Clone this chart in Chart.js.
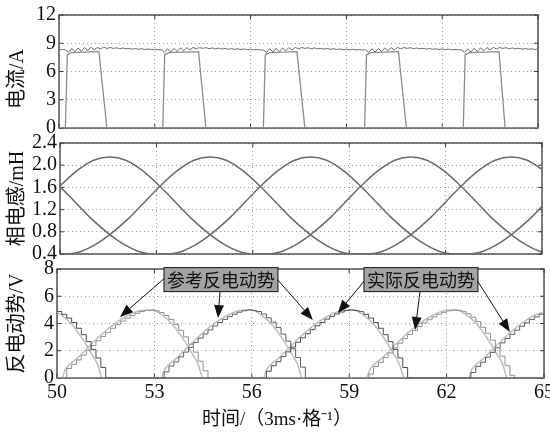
<!DOCTYPE html>
<html>
<head>
<meta charset="utf-8">
<script src="https://cdn.jsdelivr.net/npm/chart.js@4.4.0/dist/chart.umd.min.js"></script>
<style>
  body { margin: 0; background: #fff; }
  #wrap { position: relative; width: 550px; height: 437px; }
  #wrap canvas { position: absolute; left: 0; top: 0; }
</style>
</head>
<body>
<div id="wrap">
  <canvas id="cur" width="550" height="437"></canvas>
  <canvas id="ind" width="550" height="437"></canvas>
  <canvas id="emf" width="550" height="437"></canvas>
</div>
<script>
// time axis, 3 ms per division
const timeTicks = [50, 53, 56, 59, 62, 65];
const curTicks = [0, 3, 6, 9, 12];
const indTicks = [0.4, 0.8, 1.2, 1.6, 2.0, 2.4];
const emfTicks = [0, 2, 4, 6, 8];

// panel 1: current envelope with ripple
const curTime = [
  50.0, 50.1, 50.2, 50.3, 50.4, 50.5, 50.6, 50.7, 50.8, 50.9,
  51.0, 51.1, 51.2, 51.3, 51.4, 51.5, 51.6, 51.7, 51.8, 51.9,
  52.0, 52.1, 52.2, 52.3, 52.4, 52.5, 52.6, 52.7, 52.8, 52.9,
  53.0, 53.1, 53.2, 53.3, 53.4, 53.5, 53.6, 53.7, 53.8, 53.9,
  54.0, 54.1, 54.2, 54.3, 54.4, 54.5, 54.6, 54.7, 54.8, 54.9,
  55.0, 55.1, 55.2, 55.3, 55.4, 55.5, 55.6, 55.7, 55.8, 55.9,
  56.0, 56.1, 56.2, 56.3, 56.4, 56.5, 56.6, 56.7, 56.8, 56.9,
  57.0, 57.1, 57.2, 57.3, 57.4, 57.5, 57.6, 57.7, 57.8, 57.9,
  58.0, 58.1, 58.2, 58.3, 58.4, 58.5, 58.6, 58.7, 58.8, 58.9,
  59.0, 59.1, 59.2, 59.3, 59.4, 59.5, 59.6, 59.7, 59.8, 59.9,
  60.0, 60.1, 60.2, 60.3, 60.4, 60.5, 60.6, 60.7, 60.8, 60.9,
  61.0, 61.1, 61.2, 61.3, 61.4, 61.5, 61.6, 61.7, 61.8, 61.9,
  62.0, 62.1, 62.2, 62.3, 62.4, 62.5, 62.6, 62.7, 62.8, 62.9,
  63.0, 63.1, 63.2, 63.3, 63.4, 63.5, 63.6, 63.7, 63.8, 63.9,
  64.0, 64.1, 64.2, 64.3, 64.4, 64.5, 64.6, 64.7, 64.8, 64.9,
  65.0
];
const curTop = [
  8.30, 8.35, 8.30, 8.05, 8.45, 8.10, 8.50, 8.15, 8.55, 8.22,
  8.58, 8.30, 8.55, 8.40, 8.58, 8.45, 8.55, 8.45, 8.52, 8.42,
  8.50, 8.40, 8.46, 8.38, 8.44, 8.36, 8.41, 8.34, 8.39, 8.32,
  8.36, 8.30, 8.33, 8.02, 8.42, 8.06, 8.46, 8.12, 8.50, 8.20,
  8.54, 8.30, 8.56, 8.40, 8.55, 8.45, 8.54, 8.42, 8.50, 8.40,
  8.48, 8.38, 8.45, 8.36, 8.43, 8.35, 8.41, 8.34, 8.39, 8.32,
  8.37, 8.30, 8.35, 8.30, 8.28, 8.02, 8.42, 8.06, 8.46, 8.12,
  8.50, 8.20, 8.54, 8.30, 8.56, 8.40, 8.55, 8.45, 8.53, 8.42,
  8.50, 8.40, 8.46, 8.38, 8.44, 8.36, 8.41, 8.34, 8.39, 8.32,
  8.37, 8.30, 8.35, 8.30, 8.33, 8.28, 8.30, 8.02, 8.42, 8.06,
  8.46, 8.12, 8.50, 8.20, 8.54, 8.30, 8.56, 8.40, 8.55, 8.45,
  8.53, 8.42, 8.50, 8.40, 8.46, 8.38, 8.44, 8.36, 8.41, 8.34,
  8.39, 8.32, 8.37, 8.30, 8.35, 8.30, 8.30, 8.02, 8.42, 8.06,
  8.46, 8.12, 8.50, 8.20, 8.54, 8.30, 8.56, 8.40, 8.55, 8.45,
  8.53, 8.42, 8.50, 8.40, 8.46, 8.38, 8.44, 8.36, 8.41, 8.34,
  8.39
];
// phase current pulses
const curA_t = [50, 56.4, 56.46, 56.6, 57.45, 57.7, 65];
const curA = [0, 0, 7.8, 8.0, 8.1, 0, 0];
const curB_t = [50, 50.2, 50.26, 50.4, 51.25, 51.5, 59.57, 59.63, 59.77, 60.63, 60.88, 65];
const curB = [0, 0, 7.8, 8.0, 8.1, 0, 0, 7.8, 8.0, 8.1, 0, 0];
const curC_t = [50, 53.25, 53.31, 53.45, 54.37, 54.6, 62.66, 62.72, 62.86, 63.78, 63.97, 65];
const curC = [0, 0, 7.8, 8.0, 8.1, 0, 0, 7.8, 8.0, 8.1, 0, 0];

// panel 2: phase inductance (mH)
const indA_t = [48.43, 48.93, 49.43, 49.99, 50.43, 50.93, 51.55, 52.03, 52.43, 52.87,
  53.36, 53.80, 54.20, 54.68, 55.30, 55.80, 56.24, 56.80, 57.30, 57.80,
  58.30, 58.80, 59.36, 59.80, 60.30, 60.92, 61.40, 61.80, 62.24, 62.73,
  63.17, 63.57, 64.05, 64.67, 65.17];
const indA = [2.15, 2.09, 1.91, 1.62, 1.36, 1.06, 0.75, 0.56, 0.45, 0.40,
  0.40, 0.45, 0.56, 0.75, 1.06, 1.36, 1.62, 1.91, 2.09, 2.15,
  2.09, 1.91, 1.62, 1.36, 1.06, 0.75, 0.56, 0.45, 0.40, 0.40,
  0.45, 0.56, 0.75, 1.06, 1.36];
const indB_t = [47.11, 47.55, 47.95, 48.43, 49.05, 49.55, 49.99, 50.55, 51.05, 51.55,
  52.05, 52.55, 53.11, 53.55, 54.05, 54.67, 55.15, 55.55, 55.99, 56.48,
  56.92, 57.32, 57.80, 58.42, 58.92, 59.36, 59.92, 60.42, 60.92, 61.42,
  61.92, 62.48, 62.92, 63.42, 64.04, 64.52, 64.92, 65.36];
const indB = [0.40, 0.45, 0.56, 0.75, 1.06, 1.36, 1.62, 1.91, 2.09, 2.15,
  2.09, 1.91, 1.62, 1.36, 1.06, 0.75, 0.56, 0.45, 0.40, 0.40,
  0.45, 0.56, 0.75, 1.06, 1.36, 1.62, 1.91, 2.09, 2.15, 2.09,
  1.91, 1.62, 1.36, 1.06, 0.75, 0.56, 0.45, 0.40];
const indC_t = [49.74, 50.23, 50.67, 51.07, 51.55, 52.17, 52.67, 53.11, 53.67, 54.17,
  54.67, 55.17, 55.67, 56.23, 56.67, 57.17, 57.79, 58.27, 58.67, 59.11,
  59.60, 60.04, 60.44, 60.92, 61.54, 62.04, 62.48, 63.04, 63.54, 64.04,
  64.54, 65.04];
const indC = [0.40, 0.40, 0.45, 0.56, 0.75, 1.06, 1.36, 1.62, 1.91, 2.09,
  2.15, 2.09, 1.91, 1.62, 1.36, 1.06, 0.75, 0.56, 0.45, 0.40,
  0.40, 0.45, 0.56, 0.75, 1.06, 1.36, 1.62, 1.91, 2.09, 2.15,
  2.09, 1.91];

// panel 3: back EMF (V), reference (smooth) and actual (sampled, stepped)
const refA_t = [49.55, 49.85, 50.15, 50.45, 50.75, 51.05, 51.25, 51.40,
  56.35, 56.45, 56.85, 57.35, 57.85, 58.35, 58.85, 59.15, 59.45, 59.75, 60.05, 60.35, 60.55, 60.70, 65.00];
const refA = [4.97, 4.98, 4.60, 3.95, 3.00, 1.85, 1.00, 0,
  0, 0.60, 1.50, 2.70, 3.75, 4.55, 4.97, 4.98, 4.60, 3.95, 3.00, 1.85, 1.00, 0, 0];
const refB_t = [50.00, 50.15, 50.25, 50.65, 51.15, 51.65, 52.15, 52.65, 52.95, 53.25, 53.55, 53.85, 54.15, 54.35, 54.50,
  59.53, 59.63, 60.03, 60.53, 61.03, 61.53, 62.03, 62.33, 62.63, 62.93, 63.23, 63.53, 63.73, 63.88, 65.00];
const refB = [0, 0, 0.60, 1.50, 2.70, 3.75, 4.55, 4.97, 4.98, 4.60, 3.95, 3.00, 1.85, 1.00, 0,
  0, 0.60, 1.50, 2.70, 3.75, 4.55, 4.97, 4.98, 4.60, 3.95, 3.00, 1.85, 1.00, 0, 0];
const refC_t = [50.00, 53.21, 53.31, 53.71, 54.21, 54.71, 55.21, 55.71, 56.01, 56.31, 56.61, 56.91, 57.21, 57.41, 57.56,
  62.67, 62.77, 63.17, 63.67, 64.17, 64.67, 65.17];
const refC = [0, 0, 0.60, 1.50, 2.70, 3.75, 4.55, 4.97, 4.98, 4.60, 3.95, 3.00, 1.85, 1.00, 0,
  0, 0.60, 1.50, 2.70, 3.75, 4.55, 4.97];

const emfTime = [
  50.00, 50.15, 50.30, 50.45, 50.60, 50.75, 50.90, 51.05, 51.20, 51.35,
  51.50, 51.65, 51.80, 51.95, 52.10, 52.25, 52.40, 52.55, 52.70, 52.85,
  53.00, 53.15, 53.30, 53.45, 53.60, 53.75, 53.90, 54.05, 54.20, 54.35,
  54.50, 54.65, 54.80, 54.95, 55.10, 55.25, 55.40, 55.55, 55.70, 55.85,
  56.00, 56.15, 56.30, 56.45, 56.60, 56.75, 56.90, 57.05, 57.20, 57.35,
  57.50, 57.65, 57.80, 57.95, 58.10, 58.25, 58.40, 58.55, 58.70, 58.85,
  59.00, 59.15, 59.30, 59.45, 59.60, 59.75, 59.90, 60.05, 60.20, 60.35,
  60.50, 60.65, 60.80, 60.95, 61.10, 61.25, 61.40, 61.55, 61.70, 61.85,
  62.00, 62.15, 62.30, 62.45, 62.60, 62.75, 62.90, 63.05, 63.20, 63.35,
  63.50, 63.65, 63.80, 63.95, 64.10, 64.25, 64.40, 64.55, 64.70, 64.85,
  65.00
];
const actA = [
  4.88, 4.67, 4.40, 4.07, 3.65, 3.18, 2.67, 2.10, 1.47, 0.77,
  0, 0, 0, 0, 0, 0, 0, 0, 0, 0,
  0, 0, 0, 0, 0, 0, 0, 0, 0, 0,
  0, 0, 0, 0, 0, 0, 0, 0, 0, 0,
  0, 0, 0, 0.50, 0.90, 1.20, 1.57, 1.92, 2.27, 2.62,
  2.95, 3.25, 3.55, 3.83, 4.08, 4.32, 4.52, 4.70, 4.84, 4.95,
  5.00, 4.96, 4.87, 4.67, 4.40, 4.07, 3.65, 3.18, 2.67, 2.10,
  1.47, 0.77, 0, 0, 0, 0, 0, 0, 0, 0,
  0, 0, 0, 0, 0, 0, 0, 0, 0, 0,
  0, 0, 0, 0, 0, 0, 0, 0, 0, 0,
  0
];
const actB = [
  0, 0, 0.70, 1.00, 1.33, 1.68, 2.03, 2.38, 2.73, 3.05,
  3.35, 3.65, 3.92, 4.17, 4.38, 4.58, 4.75, 4.88, 4.97, 4.99,
  4.93, 4.80, 4.58, 4.30, 3.93, 3.50, 3.02, 2.48, 1.90, 1.23,
  0.53, 0, 0, 0, 0, 0, 0, 0, 0, 0,
  0, 0, 0, 0, 0, 0, 0, 0, 0, 0,
  0, 0, 0, 0, 0, 0, 0, 0, 0, 0,
  0, 0, 0, 0, 0.30, 0.85, 1.15, 1.50, 1.85, 2.20,
  2.55, 2.89, 3.19, 3.49, 3.78, 4.04, 4.28, 4.48, 4.67, 4.82,
  4.93, 5.00, 4.97, 4.89, 4.72, 4.46, 4.15, 3.73, 3.28, 2.78,
  2.22, 1.60, 0.90, 0.20, 0, 0, 0, 0, 0, 0,
  0
];
const actC = [
  0, 0, 0, 0, 0, 0, 0, 0, 0, 0,
  0, 0, 0, 0, 0, 0, 0, 0, 0, 0,
  0, 0, 0.45, 0.88, 1.18, 1.55, 1.90, 2.25, 2.60, 2.93,
  3.23, 3.53, 3.82, 4.07, 4.30, 4.50, 4.68, 4.83, 4.94, 5.00,
  4.96, 4.88, 4.70, 4.42, 4.10, 3.70, 3.22, 2.70, 2.15, 1.50,
  0.80, 0, 0, 0, 0, 0, 0, 0, 0, 0,
  0, 0, 0, 0, 0, 0, 0, 0, 0, 0,
  0, 0, 0, 0, 0, 0, 0, 0, 0, 0,
  0, 0, 0, 0, 0, 0.40, 0.86, 1.16, 1.52, 1.88,
  2.23, 2.58, 2.90, 3.21, 3.51, 3.80, 4.05, 4.29, 4.49, 4.68,
  4.82
];

const serif = "'Liberation Serif', 'Times New Roman', serif";
const cjk = "'Liberation Serif', 'Noto Sans CJK SC', serif";
const tickFont = { family: serif, size: 20 };
const titleFont = { family: cjk, size: 20 };

const pts = (xs, ys) => xs.map((x, i) => ({ x: x, y: ys[i] }));

// box around the plot plus inward tick marks, drawn under the data
const frame = {
  id: 'frame',
  beforeDatasetsDraw(chart) {
    const { ctx, chartArea: a, scales: { x, y } } = chart;
    ctx.save();
    ctx.strokeStyle = '#3a3a3a';
    ctx.lineWidth = 1.3;
    ctx.strokeRect(a.left, a.top, a.right - a.left, a.bottom - a.top);
    ctx.lineWidth = 1;
    ctx.beginPath();
    x.ticks.forEach(t => {
      const px = x.getPixelForValue(t.value);
      ctx.moveTo(px, a.top); ctx.lineTo(px, a.top + 4);
      ctx.moveTo(px, a.bottom); ctx.lineTo(px, a.bottom - 4);
    });
    y.ticks.forEach(t => {
      const py = y.getPixelForValue(t.value);
      ctx.moveTo(a.left, py); ctx.lineTo(a.left + 4, py);
      ctx.moveTo(a.right, py); ctx.lineTo(a.right - 4, py);
    });
    ctx.stroke();
    ctx.restore();
  }
};

// labelled boxes with arrows (data coordinates)
const notes = [
  { text: '参考反电动势', x: 55.05, y: 7.22,
    arrows: [[53.3, 7.3, 51.94, 4.48], [55.02, 6.31, 54.96, 4.4], [56.8, 7.2, 57.88, 4.26]] },
  { text: '实际反电动势', x: 61.21, y: 7.22,
    arrows: [[59.49, 7.2, 58.65, 4.77], [61.18, 6.31, 61.03, 3.52], [62.93, 7.2, 63.95, 3.38]] }
];
const annotate = {
  id: 'annotate',
  afterDatasetsDraw(chart) {
    const { ctx, scales: { x, y } } = chart;
    ctx.save();
    notes.forEach(n => {
      n.arrows.forEach(([x0, y0, x1, y1]) => {
        const ax = x.getPixelForValue(x0), ay = y.getPixelForValue(y0);
        const bx = x.getPixelForValue(x1), by = y.getPixelForValue(y1);
        const ang = Math.atan2(by - ay, bx - ax);
        const len = 13, hw = 5;
        ctx.strokeStyle = '#111';
        ctx.lineWidth = 1;
        ctx.beginPath();
        ctx.moveTo(ax, ay);
        ctx.lineTo(bx - Math.cos(ang) * len, by - Math.sin(ang) * len);
        ctx.stroke();
        ctx.fillStyle = '#111';
        ctx.beginPath();
        ctx.moveTo(bx, by);
        ctx.lineTo(bx - Math.cos(ang) * len - Math.sin(ang) * hw, by - Math.sin(ang) * len + Math.cos(ang) * hw);
        ctx.lineTo(bx - Math.cos(ang) * len + Math.sin(ang) * hw, by - Math.sin(ang) * len - Math.cos(ang) * hw);
        ctx.closePath();
        ctx.fill();
      });
      ctx.font = "18px 'Noto Sans CJK SC', sans-serif";
      const w = ctx.measureText(n.text).width + 6, h = 24;
      const cx = x.getPixelForValue(n.x), cy = y.getPixelForValue(n.y);
      ctx.fillStyle = '#a3a3a3';
      ctx.fillRect(cx - w / 2, cy - h / 2, w, h);
      ctx.strokeStyle = '#111';
      ctx.lineWidth = 1;
      ctx.strokeRect(cx - w / 2, cy - h / 2, w, h);
      ctx.fillStyle = '#111';
      ctx.textAlign = 'center';
      ctx.textBaseline = 'middle';
      ctx.fillText(n.text, cx, cy + 1);
    });
    ctx.restore();
  }
};

function makePanel(id, cfg) {
  return new Chart(document.getElementById(id), {
    type: 'line',
    data: { datasets: cfg.datasets },
    options: {
      responsive: false,
      animation: false,
      events: [],
      layout: { padding: cfg.padding },
      elements: { point: { radius: 0 } },
      plugins: {
        legend: { display: false },
        tooltip: { enabled: false },
        title: cfg.title || { display: false }
      },
      scales: {
        x: {
          type: 'linear', min: 50, max: 65,
          afterBuildTicks: s => { s.ticks = timeTicks.map(v => ({ value: v })); },
          ticks: { display: cfg.showX, autoSkip: false, maxRotation: 0, padding: 3, font: tickFont, color: '#111' },
          grid: { color: '#9a9a9a', drawTicks: false },
          border: { display: false, dash: [1, 3] },
          afterFit: s => { s.height = cfg.xHeight; s.paddingLeft = 0; s.paddingRight = 0; }
        },
        y: {
          type: 'linear', min: cfg.yMin, max: cfg.yMax,
          afterBuildTicks: s => { s.ticks = cfg.yTicks.map(v => ({ value: v })); },
          ticks: { autoSkip: false, padding: 3, font: tickFont, color: '#111', callback: cfg.yFmt },
          grid: { color: '#9a9a9a', drawTicks: false },
          border: { display: false, dash: [1, 3] },
          title: { display: true, text: cfg.yTitle, font: titleFont, color: '#111', padding: { top: cfg.titlePad, bottom: 0 } },
          afterFit: s => { s.width = cfg.yWidth; s.paddingTop = 0; s.paddingBottom = 0; }
        }
      }
    },
    plugins: [frame].concat(cfg.plugins || [])
  });
}

makePanel('cur', {
  padding: { left: 0, right: 12, top: 15, bottom: 309 },
  yWidth: 59, xHeight: 0, showX: false, titlePad: 6,
  yMin: 0, yMax: 12, yTicks: curTicks, yFmt: v => v,
  yTitle: '电流/A   ',
  datasets: [
    { data: pts(curTime, curTop), borderColor: '#6c6c6c', borderWidth: 1 },
    { data: pts(curA_t, curA), borderColor: '#8c8c8c', borderWidth: 1.3 },
    { data: pts(curB_t, curB), borderColor: '#8c8c8c', borderWidth: 1.3 },
    { data: pts(curC_t, curC), borderColor: '#8c8c8c', borderWidth: 1.3 }
  ]
});

makePanel('ind', {
  padding: { left: 0, right: 8, top: 143, bottom: 183 },
  yWidth: 60, xHeight: 0, showX: false, titlePad: 6,
  yMin: 0.4, yMax: 2.4, yTicks: indTicks, yFmt: v => v.toFixed(1),
  yTitle: '相电感/mH',
  datasets: [
    { data: pts(indA_t, indA), borderColor: '#6a6a6a', borderWidth: 1.5, cubicInterpolationMode: 'monotone' },
    { data: pts(indB_t, indB), borderColor: '#6a6a6a', borderWidth: 1.5, cubicInterpolationMode: 'monotone' },
    { data: pts(indC_t, indC), borderColor: '#6a6a6a', borderWidth: 1.5, cubicInterpolationMode: 'monotone' }
  ]
});

makePanel('emf', {
  padding: { left: 10, right: 6, top: 269, bottom: 0 },
  yWidth: 47, xHeight: 26.2, showX: true, titlePad: -4,
  yMin: 0, yMax: 8, yTicks: emfTicks, yFmt: v => v,
  yTitle: '反电动势/V',
  title: { display: true, position: 'bottom', text: '时间/（3ms·格⁻¹）', color: '#111',
    font: { family: cjk, size: 19, weight: 'normal' }, padding: { top: 4, bottom: 6 } },
  plugins: [annotate],
  datasets: [
    { data: pts(emfTime, actA), borderColor: '#4d4d4d', borderWidth: 1, stepped: true },
    { data: pts(emfTime, actB), borderColor: '#8f8f8f', borderWidth: 1, stepped: true },
    { data: pts(emfTime, actC), borderColor: '#5e5e5e', borderWidth: 1, stepped: true },
    { data: pts(refA_t, refA), borderColor: '#bdbdbd', borderWidth: 1.5, cubicInterpolationMode: 'monotone' },
    { data: pts(refB_t, refB), borderColor: '#bdbdbd', borderWidth: 1.5, cubicInterpolationMode: 'monotone' },
    { data: pts(refC_t, refC), borderColor: '#bdbdbd', borderWidth: 1.5, cubicInterpolationMode: 'monotone' }
  ]
});
</script>
</body>
</html>
